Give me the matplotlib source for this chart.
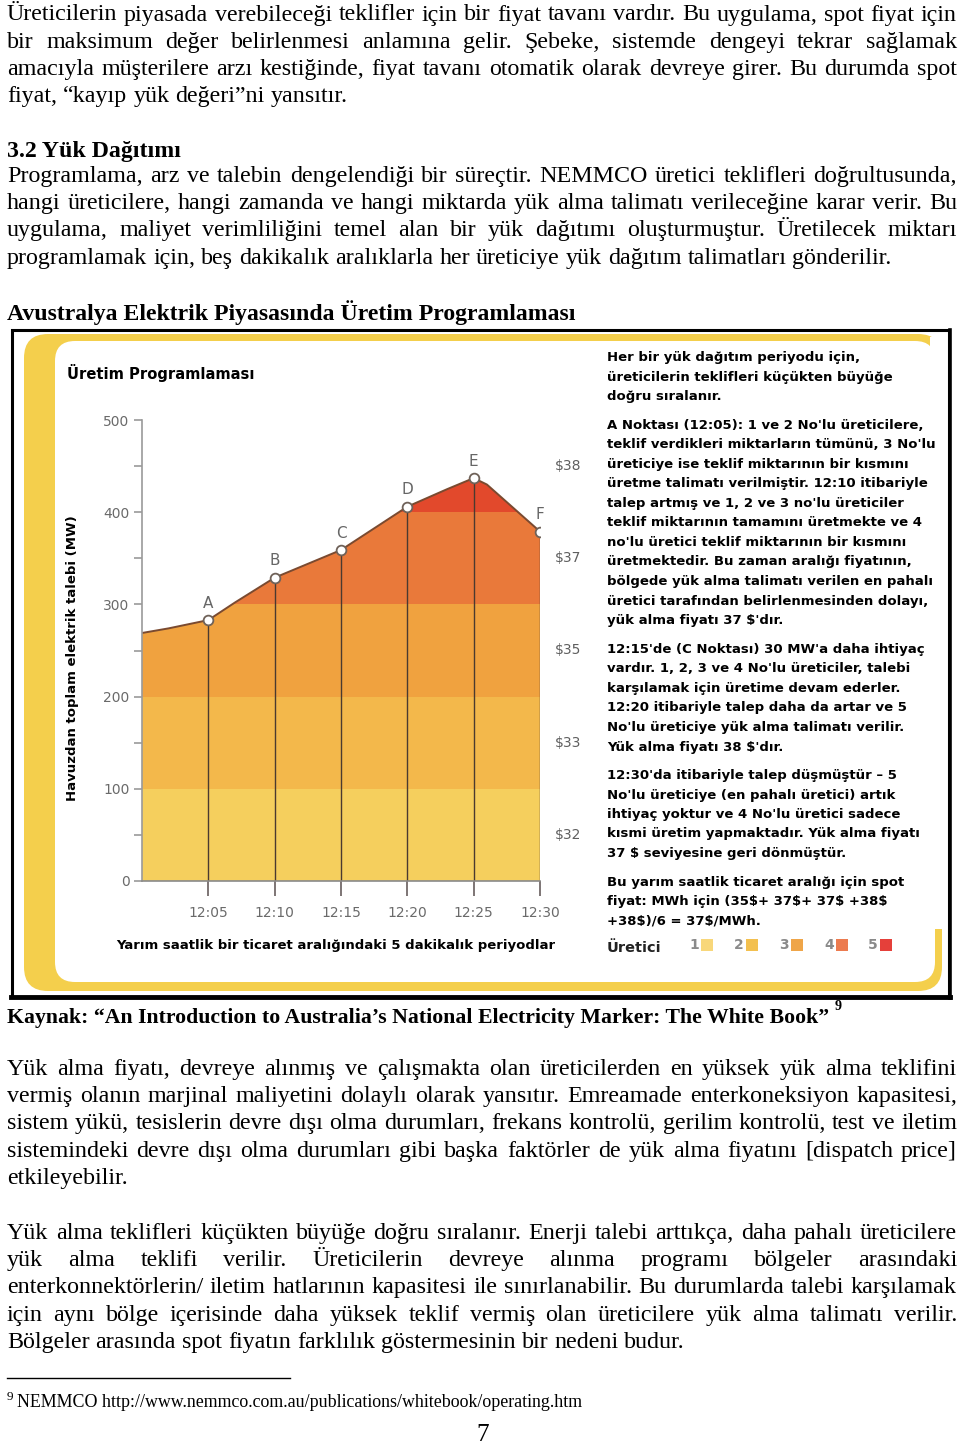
import numpy as np
import matplotlib
matplotlib.use("Agg")
import matplotlib.pyplot as plt
from matplotlib import font_manager
from matplotlib.patches import FancyBboxPatch, Rectangle

# ---- chart data ----
minutes = [0, 2, 5, 7, 10, 15, 20, 23, 25, 26, 30]
demand_mw = [269, 274, 283, 302, 329, 359, 406, 425, 437, 430, 379]
point_names = ["A", "B", "C", "D", "E", "F"]
point_minutes = [5, 10, 15, 20, 25, 30]
point_mw = [283, 329, 359, 406, 437, 379]
tick_minutes = [5, 10, 15, 20, 25, 30]
tick_labels = ["12:05", "12:10", "12:15", "12:20", "12:25", "12:30"]
generators = ["1", "2", "3", "4", "5"]
band_low = [0, 100, 200, 300, 400]
band_high = [100, 200, 300, 400, 500]
band_price = ["$32", "$33", "$35", "$37", "$38"]
band_colors = ["#F5CF5D", "#F3B84B", "#F0A23F", "#E9793A", "#E2492C"]
legend_colors = ["#F8D77A", "#F3C04F", "#EFA548", "#EC7B4F", "#E5403A"]

# ---- page text ----
para1 = [
    "Üreticilerin piyasada verebileceği teklifler için bir fiyat tavanı vardır. Bu uygulama, spot fiyat için",
    "bir maksimum değer belirlenmesi anlamına gelir. Şebeke, sistemde dengeyi tekrar sağlamak",
    "amacıyla müşterilere arzı kestiğinde, fiyat tavanı otomatik olarak devreye girer. Bu durumda spot",
    "fiyat, “kayıp yük değeri”ni yansıtır.",
]
heading1 = "3.2 Yük Dağıtımı"
para2 = [
    "Programlama, arz ve talebin dengelendiği bir süreçtir. NEMMCO üretici teklifleri doğrultusunda,",
    "hangi üreticilere, hangi zamanda ve hangi miktarda yük alma talimatı verileceğine karar verir. Bu",
    "uygulama, maliyet verimliliğini temel alan bir yük dağıtımı oluşturmuştur. Üretilecek miktarı",
    "programlamak için, beş dakikalık aralıklarla her üreticiye yük dağıtım talimatları gönderilir.",
]
heading2 = "Avustralya Elektrik Piyasasında Üretim Programlaması"
source = "Kaynak: “An Introduction to Australia’s National Electricity Marker: The White Book”"
para3 = [
    "Yük alma fiyatı, devreye alınmış ve çalışmakta olan üreticilerden en yüksek yük alma teklifini",
    "vermiş olanın marjinal maliyetini dolaylı olarak yansıtır. Emreamade enterkoneksiyon kapasitesi,",
    "sistem yükü, tesislerin devre dışı olma durumları, frekans kontrolü, gerilim kontrolü, test ve iletim",
    "sistemindeki devre dışı olma durumları gibi başka faktörler de yük alma fiyatını [dispatch price]",
    "etkileyebilir.",
]
para4 = [
    "Yük alma teklifleri küçükten büyüğe doğru sıralanır. Enerji talebi arttıkça, daha pahalı üreticilere",
    "yük alma teklifi verilir. Üreticilerin devreye alınma programı bölgeler arasındaki",
    "enterkonnektörlerin/ iletim hatlarının kapasitesi ile sınırlanabilir. Bu durumlarda talebi karşılamak",
    "için aynı bölge içerisinde daha yüksek teklif vermiş olan üreticilere yük alma talimatı verilir.",
    "Bölgeler arasında spot fiyatın farklılık göstermesinin bir nedeni budur.",
]
footnote = "NEMMCO http://www.nemmco.com.au/publications/whitebook/operating.htm"

side_paras = [
    ["Her bir yük dağıtım periyodu için,",
     "üreticilerin teklifleri küçükten büyüğe",
     "doğru sıralanır."],
    ["A Noktası (12:05): 1 ve 2 No'lu üreticilere,",
     "teklif verdikleri miktarların tümünü, 3 No'lu",
     "üreticiye ise teklif miktarının bir kısmını",
     "üretme talimatı verilmiştir. 12:10 itibariyle",
     "talep artmış ve 1, 2 ve 3 no'lu üreticiler",
     "teklif miktarının tamamını üretmekte ve 4",
     "no'lu üretici teklif miktarının bir kısmını",
     "üretmektedir. Bu zaman aralığı fiyatının,",
     "bölgede yük alma talimatı verilen en pahalı",
     "üretici tarafından belirlenmesinden dolayı,",
     "yük alma fiyatı 37 $'dır."],
    ["12:15'de (C Noktası) 30 MW'a daha ihtiyaç",
     "vardır. 1, 2, 3 ve 4 No'lu üreticiler, talebi",
     "karşılamak için üretime devam ederler.",
     "12:20 itibariyle talep daha da artar ve 5",
     "No'lu üreticiye yük alma talimatı verilir.",
     "Yük alma fiyatı 38 $'dır."],
    ["12:30'da itibariyle talep düşmüştür – 5",
     "No'lu üreticiye (en pahalı üretici) artık",
     "ihtiyaç yoktur ve 4 No'lu üretici sadece",
     "kısmi üretim yapmaktadır. Yük alma fiyatı",
     "37 $ seviyesine geri dönmüştür."],
    ["Bu yarım saatlik ticaret aralığı için spot",
     "fiyat: MWh için (35$+ 37$+ 37$ +38$",
     "+38$)/6 = 37$/MWh."],
]
side_starts = [361, 429, 653, 779, 886]


def has_font(name):
    try:
        font_manager.findfont(font_manager.FontProperties(family=name),
                              fallback_to_default=False)
        return True
    except Exception:
        return False


SERIF = ["Liberation Serif", "DejaVu Serif"]
SANS = ["Liberation Sans Narrow", "DejaVu Sans"] if has_font("Liberation Sans Narrow") \
    else ["DejaVu Sans"]
plt.rcParams["font.family"] = SANS

fig = plt.figure(figsize=(9.6, 14.49), dpi=100)
page = fig.add_axes([0, 0, 1, 1])
page.set_xlim(0, 960)
page.set_ylim(1449, 0)
page.axis("off")
renderer = fig.canvas.get_renderer()


def measure(s, size, weight, family):
    t = page.text(0, 0, s, fontsize=size, fontweight=weight, family=family,
                  parse_math=False)
    w = t.get_window_extent(renderer).width
    t.remove()
    return w


def fit(lines, width, weight, family, ref=10.0):
    w = max(measure(s, ref, weight, family) for s in lines)
    return ref * width / w


def put_line(x0, x1, y, s, size, weight="normal", family=SERIF, justify=True):
    words = s.split(" ")
    arts = [page.text(0, y, w, fontsize=size, fontweight=weight, family=family,
                      va="baseline", ha="left", parse_math=False) for w in words]
    widths = [a.get_window_extent(renderer).width for a in arts]
    if justify and len(words) > 1:
        gap = (x1 - x0 - sum(widths)) / (len(words) - 1)
    else:
        gap = measure("a a", size, weight, family) - measure("aa", size, weight, family)
    x = x0
    for a, w in zip(arts, widths):
        a.set_x(x)
        x += w + gap


def put_para(lines, y0, size, step=27.2):
    for i, s in enumerate(lines):
        put_line(7, 957, y0 + i * step, s, size, justify=(i < len(lines) - 1))


justified = para1[:-1] + para2[:-1] + para3[:-1] + para4[:-1]
body_size = fit(justified, 946, "normal", SERIF)

put_para(para1, 20.5, body_size)
page.text(7, 157, heading1, fontsize=fit([heading1], 174, "bold", SERIF),
          fontweight="bold", family=SERIF, va="baseline")
put_para(para2, 182, body_size)
page.text(7, 320, heading2, fontsize=fit([heading2], 569, "bold", SERIF),
          fontweight="bold", family=SERIF, va="baseline")

# ---- chart frame ----
page.add_patch(FancyBboxPatch((24, 334), 918, 657, boxstyle="round,pad=0,rounding_size=24",
                              fc="#F4CF4C", ec="none", zorder=1))
page.add_patch(FancyBboxPatch((55, 341), 880, 641, boxstyle="round,pad=0,rounding_size=20",
                              fc="white", ec="none", zorder=2))
page.add_patch(Rectangle((930, 337), 16, 592, fc="white", ec="none", zorder=2))
page.add_patch(Rectangle((12, 330), 937, 667, fill=False, ec="black", lw=2.2, zorder=3))
page.plot([11, 950], [997, 997], color="black", lw=3.5, zorder=3)
page.plot([949.5, 949.5], [330, 998], color="black", lw=2.6, zorder=3)

# chart texts in page coordinates
title_size = fit(["Üretim Programlaması"], 187, "bold", SANS)
page.text(67, 379, "Üretim Programlaması", fontsize=title_size, fontweight="bold",
          va="baseline", zorder=5)
ylab = "Havuzdan toplam elektrik talebi (MW)"
page.text(73, 658, ylab, fontsize=fit([ylab], 284, "bold", SANS), fontweight="bold",
          rotation=90, ha="center", va="center", zorder=5)
xlab = "Yarım saatlik bir ticaret aralığındaki 5 dakikalık periyodlar"
page.text(336, 946, xlab, fontsize=fit([xlab], 438, "bold", SANS), fontweight="bold",
          ha="center", va="center", zorder=5)

side_lines = [s for p in side_paras for s in p]
side_size = fit(side_lines, 326, "bold", SANS)
for start, lines in zip(side_starts, side_paras):
    for i, s in enumerate(lines):
        page.text(607, start + i * 19.5, s, fontsize=side_size, fontweight="bold",
                  va="baseline", parse_math=False, zorder=5)

page.text(607, 952, "Üretici", fontsize=fit(["Üretici"], 54, "bold", SANS),
          fontweight="bold", color="#222222", va="baseline", zorder=5)
legend_x = [694, 739, 784, 829, 873]
for gx, g, c in zip(legend_x, generators, legend_colors):
    page.text(gx, 945, g, fontsize=10, fontweight="bold", color="#8a8a8a",
              ha="center", va="center", zorder=5)
    page.add_patch(Rectangle((gx + 7, 939), 12, 12, fc=c, ec="none", zorder=5))

# ---- the chart itself ----
X0, X1, Y0, Y1 = 142, 540, 881, 420
ax = fig.add_axes([X0 / 960, (1449 - Y0) / 1449, (X1 - X0) / 960, (Y0 - Y1) / 1449])
ax.set_zorder(4)
ax.patch.set_alpha(0)
ax.set_xlim(0, 30)
ax.set_ylim(0, 500)

area = ax.fill_between(minutes, 0, demand_mw, color="none", lw=0)
clip = area.get_paths()[0]
for lo, hi, c in zip(band_low, band_high, band_colors):
    span = ax.axhspan(lo, hi, color=c, lw=0)
    span.set_clip_path(clip, ax.transData)

ax.vlines(point_minutes, 0, point_mw, color="#4a3a30", lw=1.0)
ax.plot(minutes, demand_mw, color="#7a4a30", lw=1.4)
ax.plot(point_minutes, point_mw, "o", mfc="white", mec="#6f6259", ms=7, mew=1.3,
        zorder=5)
for n, t, v in zip(point_names, point_minutes, point_mw):
    ax.annotate(n, (t, v), xytext=(0, 17), textcoords="offset pixels", ha="center",
                va="center", fontsize=11, color="#666666")

for lo, hi, p in zip(band_low, band_high, band_price):
    ax.text(31.1, (lo + hi) / 2, p, fontsize=10, color="#5f5f5f", ha="left",
            va="center", clip_on=False, parse_math=False)

for side in ["top", "right"]:
    ax.spines[side].set_visible(False)
ax.spines["left"].set_color("#9a9a9a")
ax.spines["left"].set_linewidth(1.2)
ax.spines["bottom"].set_color("#8a8a8a")
ax.spines["bottom"].set_linewidth(1.2)

ax.set_yticks([0, 100, 200, 300, 400, 500])
ax.set_yticks([50, 150, 250, 350, 450], minor=True)
ax.tick_params(axis="y", which="both", direction="out", length=6, width=1.2,
               color="#9a9a9a", labelsize=10, labelcolor="#6a6a6a", pad=3)
ax.set_xticks(tick_minutes)
ax.set_xticklabels(tick_labels)
ax.tick_params(axis="x", direction="out", length=11, width=1.1, color="#5a5050",
               labelsize=10, labelcolor="#6a6a6a", pad=7)

# ---- below the chart ----
src_size = fit([source], 823, "bold", SERIF)
page.text(7, 1023, source, fontsize=src_size, fontweight="bold", family=SERIF,
          va="baseline", parse_math=False)
page.text(835, 1010, "9", fontsize=src_size * 0.65, fontweight="bold", family=SERIF,
          va="baseline")
put_para(para3, 1075, body_size)
put_para(para4, 1239, body_size)

page.plot([7, 290], [1378, 1378], color="black", lw=1.0)
page.text(7, 1400, "9", fontsize=body_size * 0.55, family=SERIF, va="baseline")
page.text(17, 1407, footnote, fontsize=fit([footnote], 563, "normal", SERIF),
          family=SERIF, va="baseline")
page.text(483, 1446, "7", fontsize=body_size * 1.05, family=SERIF, ha="center",
          va="bottom")

fig.savefig("out.png", dpi=100)
